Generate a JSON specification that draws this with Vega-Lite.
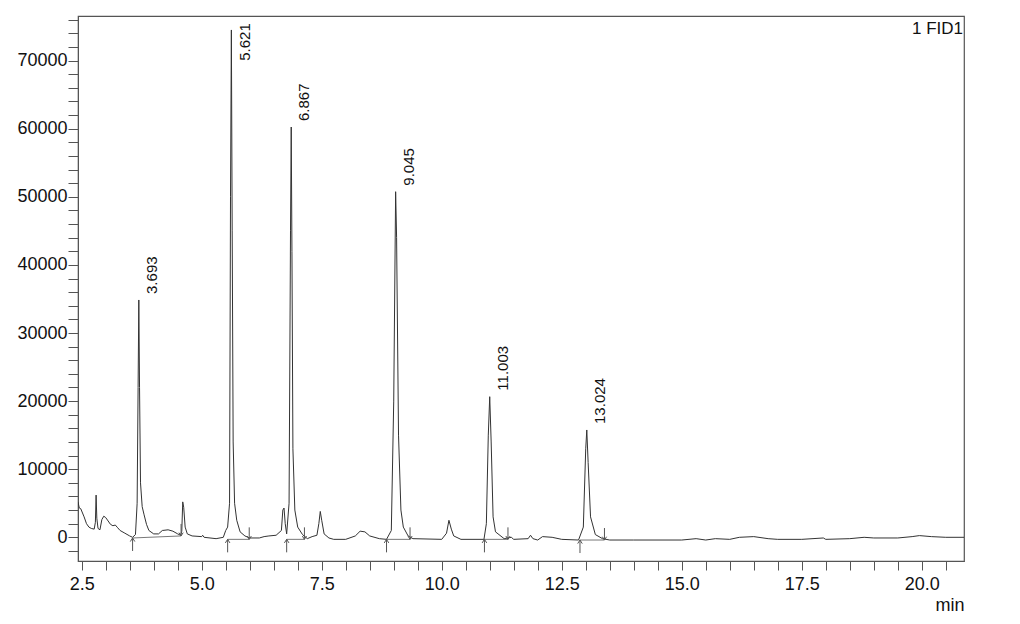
{
  "$schema": "https://vega.github.io/schema/vega-lite/v6.json",
  "autosize": {"type": "none"},
  "width": 886,
  "height": 545,
  "padding": {"left": 78, "top": 16, "right": 56, "bottom": 63},
  "background": "white",
  "config": {
    "font": "Liberation Sans",
    "view": {"stroke": "#555555", "strokeWidth": 1.2},
    "axis": {"grid": false, "domainColor": "#555555", "tickColor": "#555555", "labelColor": "#111111", "labelFont": "Liberation Sans", "titleFont": "Liberation Sans", "titleColor": "#111111"}
  },
  "title": {"text": "1 FID1", "anchor": "end", "frame": "group", "orient": "top", "offset": -27, "fontSize": 17, "fontWeight": "normal", "color": "#111111", "font": "Liberation Sans", "dx": -1},
  "datasets": {
    "trace": [
      {"t": 2.423, "s": 5200}, {"t": 2.45, "s": 4300}, {"t": 2.48, "s": 4200}, {"t": 2.55, "s": 3000}, {"t": 2.6, "s": 2000}, {"t": 2.65, "s": 1500}, {"t": 2.7, "s": 1300}, {"t": 2.76, "s": 1200},
      {"t": 2.785, "s": 2200}, {"t": 2.8, "s": 6200}, {"t": 2.815, "s": 2800}, {"t": 2.84, "s": 1300}, {"t": 2.88, "s": 1100}, {"t": 2.92, "s": 2600}, {"t": 2.96, "s": 3100}, {"t": 3.0, "s": 2900},
      {"t": 3.05, "s": 2400}, {"t": 3.1, "s": 1900}, {"t": 3.15, "s": 1700}, {"t": 3.2, "s": 1800}, {"t": 3.25, "s": 1400}, {"t": 3.3, "s": 1000}, {"t": 3.4, "s": 600}, {"t": 3.5, "s": 200},
      {"t": 3.56, "s": 0}, {"t": 3.62, "s": 400}, {"t": 3.655, "s": 5000}, {"t": 3.675, "s": 22000}, {"t": 3.69, "s": 34850}, {"t": 3.705, "s": 22000}, {"t": 3.725, "s": 8000}, {"t": 3.76, "s": 4500},
      {"t": 3.8, "s": 3300}, {"t": 3.85, "s": 1900}, {"t": 3.9, "s": 1000}, {"t": 4.0, "s": 500}, {"t": 4.1, "s": 500}, {"t": 4.18, "s": 1000}, {"t": 4.3, "s": 1100}, {"t": 4.4, "s": 900},
      {"t": 4.5, "s": 500}, {"t": 4.56, "s": 300}, {"t": 4.585, "s": 900}, {"t": 4.605, "s": 5200}, {"t": 4.625, "s": 4400}, {"t": 4.655, "s": 1500}, {"t": 4.7, "s": 500}, {"t": 4.8, "s": 200},
      {"t": 5.0, "s": 100}, {"t": 5.02, "s": 300}, {"t": 5.05, "s": 0}, {"t": 5.3, "s": -200}, {"t": 5.45, "s": 0}, {"t": 5.5, "s": 1000}, {"t": 5.54, "s": 1500}, {"t": 5.58, "s": 5000},
      {"t": 5.6, "s": 50000}, {"t": 5.618, "s": 74500}, {"t": 5.635, "s": 45000}, {"t": 5.655, "s": 14000}, {"t": 5.685, "s": 5000}, {"t": 5.73, "s": 2500}, {"t": 5.8, "s": 800}, {"t": 5.9, "s": 200},
      {"t": 6.0, "s": -100}, {"t": 6.2, "s": -100}, {"t": 6.3, "s": 100}, {"t": 6.4, "s": 200}, {"t": 6.55, "s": 300}, {"t": 6.66, "s": 1000}, {"t": 6.69, "s": 4000}, {"t": 6.715, "s": 4300},
      {"t": 6.74, "s": 2000}, {"t": 6.77, "s": 500}, {"t": 6.82, "s": 5000}, {"t": 6.85, "s": 45000}, {"t": 6.865, "s": 60250}, {"t": 6.88, "s": 42000}, {"t": 6.9, "s": 13000}, {"t": 6.94, "s": 4000},
      {"t": 7.0, "s": 1500}, {"t": 7.1, "s": 400}, {"t": 7.2, "s": -200}, {"t": 7.3, "s": 100}, {"t": 7.4, "s": 300}, {"t": 7.44, "s": 2000}, {"t": 7.47, "s": 3800}, {"t": 7.5, "s": 2500},
      {"t": 7.55, "s": 500}, {"t": 7.65, "s": -100}, {"t": 7.75, "s": -300}, {"t": 8.0, "s": -300}, {"t": 8.2, "s": 200}, {"t": 8.3, "s": 900}, {"t": 8.4, "s": 800}, {"t": 8.5, "s": 200},
      {"t": 8.7, "s": -200}, {"t": 8.85, "s": -300}, {"t": 8.95, "s": 1000}, {"t": 9.0, "s": 20000}, {"t": 9.04, "s": 50750}, {"t": 9.06, "s": 44000}, {"t": 9.1, "s": 15000}, {"t": 9.15, "s": 4000},
      {"t": 9.2, "s": 1500}, {"t": 9.3, "s": 200}, {"t": 9.4, "s": -200}, {"t": 10.0, "s": -300}, {"t": 10.1, "s": 600}, {"t": 10.15, "s": 2500}, {"t": 10.2, "s": 1200}, {"t": 10.25, "s": 200},
      {"t": 10.4, "s": -300}, {"t": 10.88, "s": -300}, {"t": 10.93, "s": 2000}, {"t": 10.97, "s": 15000}, {"t": 11.0, "s": 20650}, {"t": 11.03, "s": 14000}, {"t": 11.07, "s": 3000}, {"t": 11.12, "s": 800},
      {"t": 11.3, "s": -200}, {"t": 11.45, "s": 0}, {"t": 11.5, "s": -300}, {"t": 11.8, "s": -200}, {"t": 11.85, "s": 300}, {"t": 11.9, "s": -200}, {"t": 12.0, "s": -400}, {"t": 12.1, "s": 100},
      {"t": 12.3, "s": 0}, {"t": 12.5, "s": -300}, {"t": 12.85, "s": -400}, {"t": 12.95, "s": 1500}, {"t": 13.0, "s": 13000}, {"t": 13.022, "s": 15760}, {"t": 13.05, "s": 11000}, {"t": 13.1, "s": 3000},
      {"t": 13.2, "s": 400}, {"t": 13.35, "s": -200}, {"t": 13.5, "s": -400}, {"t": 14.0, "s": -400}, {"t": 15.0, "s": -400}, {"t": 15.3, "s": -200}, {"t": 15.5, "s": -400}, {"t": 15.7, "s": -200},
      {"t": 16.0, "s": -300}, {"t": 16.2, "s": 0}, {"t": 16.5, "s": 100}, {"t": 16.8, "s": -200}, {"t": 17.0, "s": -300}, {"t": 17.5, "s": -300}, {"t": 17.95, "s": -100}, {"t": 18.0, "s": -300},
      {"t": 18.5, "s": -200}, {"t": 18.8, "s": 0}, {"t": 19.0, "s": -100}, {"t": 19.5, "s": -100}, {"t": 19.8, "s": 100}, {"t": 19.95, "s": 250}, {"t": 20.2, "s": 100}, {"t": 20.5, "s": 0}, {"t": 20.88, "s": 0}
    ],
    "peaks": [
      {"rt": 3.693, "label": "3.693", "height": 34850, "label_at": 34850},
      {"rt": 5.621, "label": "5.621", "height": 74500, "label_at": 69100},
      {"rt": 6.867, "label": "6.867", "height": 60250, "label_at": 60250},
      {"rt": 9.045, "label": "9.045", "height": 50750, "label_at": 50750},
      {"rt": 11.003, "label": "11.003", "height": 20650, "label_at": 20650},
      {"rt": 13.024, "label": "13.024", "height": 15760, "label_at": 15760}
    ],
    "baselines": [
      {"t0": 3.56, "b0": -100, "t1": 4.57, "b1": 200},
      {"t0": 5.54, "b0": -300, "t1": 5.99, "b1": -300},
      {"t0": 6.77, "b0": -300, "t1": 7.14, "b1": -300},
      {"t0": 8.85, "b0": -300, "t1": 9.34, "b1": -300},
      {"t0": 10.89, "b0": -300, "t1": 11.38, "b1": -300},
      {"t0": 12.88, "b0": -400, "t1": 13.39, "b1": -400}
    ],
    "markers": [
      {"t": 3.56, "b": -100, "kind": "start"}, {"t": 4.57, "b": 200, "kind": "end"},
      {"t": 5.54, "b": -300, "kind": "start"}, {"t": 5.99, "b": -300, "kind": "end"},
      {"t": 6.77, "b": -300, "kind": "start"}, {"t": 7.14, "b": -300, "kind": "end"},
      {"t": 8.85, "b": -300, "kind": "start"}, {"t": 9.34, "b": -300, "kind": "end"},
      {"t": 10.89, "b": -300, "kind": "start"}, {"t": 11.38, "b": -300, "kind": "end"},
      {"t": 12.88, "b": -400, "kind": "start"}, {"t": 13.39, "b": -400, "kind": "end"}
    ]
  },
  "layer": [
    {
      "data": {"name": "trace"},
      "mark": {"type": "line", "color": "#333333", "strokeWidth": 1, "clip": true, "interpolate": "linear"},
      "encoding": {
        "x": {"field": "t", "type": "quantitative", "scale": {"domain": [2.423, 20.88], "nice": false, "zero": false},
          "axis": {"title": "min", "titleAnchor": "end", "titleAlign": "right", "titleBaseline": "alphabetic", "titleFontSize": 18, "titleFontWeight": "normal", "titleX": 886, "titleY": 49,
            "tickCount": 1000, "tickSize": 9,
            "values": [2.5, 3.0, 3.5, 4.0, 4.5, 5.0, 5.5, 6.0, 6.5, 7.0, 7.5, 8.0, 8.5, 9.0, 9.5, 10.0, 10.5, 11.0, 11.5, 12.0, 12.5, 13.0, 13.5, 14.0, 14.5, 15.0, 15.5, 16.0, 16.5, 17.0, 17.5, 18.0, 18.5, 19.0, 19.5, 20.0, 20.5],
            "labelExpr": "datum.value % 2.5 === 0 ? format(datum.value, '.1f') : ''",
            "labelOverlap": false, "labelFontSize": 18, "labelPadding": 5, "labelFlush": false,
            "encode": {"ticks": {"update": {"y2": {"signal": "datum.value % 2.5 === 0 ? 9 : 5"}}}}}},
        "y": {"field": "s", "type": "quantitative", "scale": {"domain": [-3480, 76550], "nice": false, "zero": false},
          "axis": {"title": null,
            "tickCount": 1000, "tickSize": 10,
            "values": [-2000, 0, 2000, 4000, 6000, 8000, 10000, 12000, 14000, 16000, 18000, 20000, 22000, 24000, 26000, 28000, 30000, 32000, 34000, 36000, 38000, 40000, 42000, 44000, 46000, 48000, 50000, 52000, 54000, 56000, 58000, 60000, 62000, 64000, 66000, 68000, 70000, 72000, 74000, 76000],
            "labelExpr": "datum.value % 10000 === 0 ? format(datum.value, 'd') : ''",
            "labelOverlap": false, "labelFontSize": 18, "labelPadding": 1, "labelFlush": false,
            "encode": {"ticks": {"update": {"x2": {"signal": "datum.value % 10000 === 0 ? -10 : -5"}}}}}}
      }
    },
    {
      "data": {"name": "baselines"},
      "mark": {"type": "rule", "color": "#555555", "strokeWidth": 0.8},
      "encoding": {
        "x": {"field": "t0", "type": "quantitative"},
        "x2": {"field": "t1"},
        "y": {"field": "b0", "type": "quantitative"},
        "y2": {"field": "b1"}
      }
    },
    {
      "data": {"name": "markers"},
      "transform": [{"filter": "datum.kind === 'start'"}],
      "mark": {"type": "point", "shape": "M0,0L0,2M-0.35,0.55L0,0L0.35,0.55", "size": 169, "filled": false, "stroke": "#555555", "strokeWidth": 1, "opacity": 1},
      "encoding": {
        "x": {"field": "t", "type": "quantitative"},
        "y": {"field": "b", "type": "quantitative"}
      }
    },
    {
      "data": {"name": "markers"},
      "transform": [{"filter": "datum.kind === 'end'"}],
      "mark": {"type": "point", "shape": "M0,0L0,-2M-0.35,-0.55L0,0L0.35,-0.55", "size": 144, "filled": false, "stroke": "#555555", "strokeWidth": 1, "opacity": 1},
      "encoding": {
        "x": {"field": "t", "type": "quantitative"},
        "y": {"field": "b", "type": "quantitative"}
      }
    },
    {
      "data": {"name": "peaks"},
      "mark": {"type": "text", "angle": 270, "align": "left", "baseline": "middle", "fontSize": 15, "font": "Liberation Sans", "color": "#111111", "dx": 6, "dy": 13},
      "encoding": {
        "x": {"field": "rt", "type": "quantitative"},
        "y": {"field": "label_at", "type": "quantitative"},
        "text": {"field": "label"}
      }
    }
  ]
}
